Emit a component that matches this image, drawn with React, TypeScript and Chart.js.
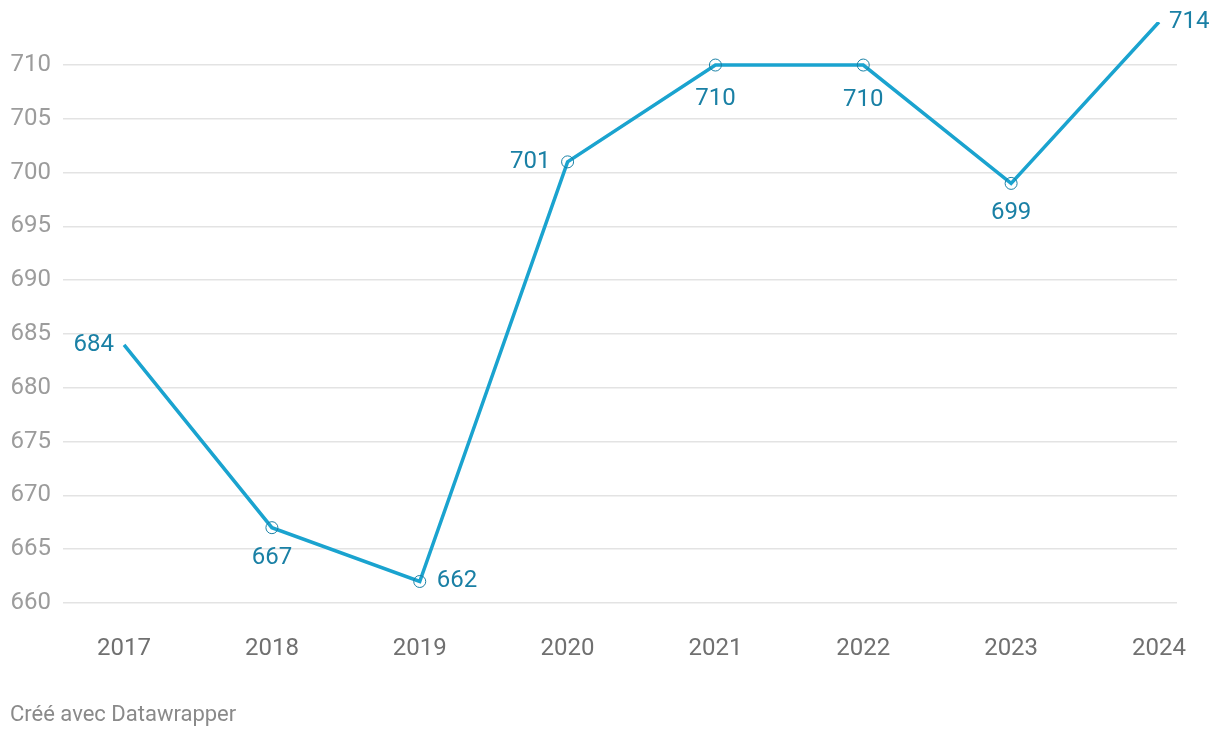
import React, { useEffect, useRef } from "react";
import { Chart, registerables } from "chart.js";

Chart.register(...registerables);

const years = [2017, 2018, 2019, 2020, 2021, 2022, 2023, 2024];
const values = [684, 667, 662, 701, 710, 710, 699, 714];
const yTicks = [660, 665, 670, 675, 680, 685, 690, 695, 700, 705, 710];
const labelPlacement = ["left", "below", "right", "left", "below", "below", "below", "right"];
const labelBelowGap = [0, 30, 0, 0, 34, 35, 30, 0];
const showMarker = [false, true, true, true, true, true, true, false];
const footerText = "Créé avec Datawrapper";

const FONT = "Roboto, 'Noto Sans', sans-serif";
const LINE = "#1aa3cf";
const LABEL = "#1a80a5";

export default function App() {
  const ref = useRef<HTMLCanvasElement | null>(null);

  useEffect(() => {
    document.body.style.margin = "0";
    const canvas = ref.current!;
    const labelsPlugin = {
      id: "dwLabels",
      afterDatasetsDraw(chart: any) {
        const ctx = chart.ctx;
        const meta = chart.getDatasetMeta(0);
        ctx.save();
        ctx.font = `24px ${FONT}`;
        ctx.fillStyle = LABEL;
        meta.data.forEach((pt: any, i: number) => {
          const t = String(values[i]);
          const p = labelPlacement[i];
          const gap = showMarker[i] ? 17 : 10;
          if (p === "left") {
            ctx.textAlign = "right";
            ctx.textBaseline = "middle";
            ctx.fillText(t, pt.x - gap, pt.y);
          } else if (p === "right") {
            ctx.textAlign = "left";
            ctx.textBaseline = "middle";
            ctx.fillText(t, pt.x + gap, pt.y);
          } else {
            ctx.textAlign = "center";
            ctx.textBaseline = "middle";
            ctx.fillText(t, pt.x, pt.y + labelBelowGap[i]);
          }
        });
        ctx.restore();
      },
      afterDraw(chart: any) {
        const ctx = chart.ctx;
        ctx.save();
        ctx.font = `22px ${FONT}`;
        ctx.fillStyle = "#8a8a8a";
        ctx.textAlign = "left";
        ctx.textBaseline = "middle";
        ctx.fillText(footerText, 10, 715);
        ctx.restore();
      },
    };

    const chart = new Chart(canvas, {
      type: "line",
      data: {
        datasets: [
          {
            data: years.map((y, i) => ({ x: y, y: values[i] })),
            borderColor: LINE,
            borderWidth: 3.5,
            tension: 0,
            pointRadius: showMarker.map((m) => (m ? 6 : 0)),
            pointBackgroundColor: "rgba(255,255,255,0)",
            pointBorderColor: LABEL,
            pointBorderWidth: 1,
            pointHoverRadius: 6,
          },
        ],
      },
      plugins: [labelsPlugin],
      options: {
        animation: false,
        responsive: false,
        layout: { padding: { top: 22, right: 43, left: 0, bottom: 0 } },
        plugins: { legend: { display: false }, tooltip: { enabled: false }, title: { display: false } },
        scales: {
          x: {
            type: "linear",
            min: 2016.587,
            max: 2024.122,
            afterBuildTicks: (s: any) => {
              s.ticks = years.map((v) => ({ value: v }));
            },
            afterFit: (s: any) => {
              s.height = 135;
              s.paddingLeft = 0;
              s.paddingRight = 0;
            },
            grid: { display: false, drawTicks: false },
            border: { display: false },
            ticks: {
              autoSkip: false,
              maxRotation: 0,
              padding: 32,
              color: "#707070",
              font: { family: FONT, size: 24 },
              callback: (v: any) => String(v),
            },
          },
          y: {
            min: 660,
            max: 714,
            afterBuildTicks: (s: any) => {
              s.ticks = yTicks.map((v) => ({ value: v }));
            },
            afterFit: (s: any) => {
              s.width = 63;
              s.paddingTop = 0;
              s.paddingBottom = 0;
            },
            grid: { color: "#e3e3e3", lineWidth: 1.5, drawTicks: false },
            border: { display: false },
            ticks: {
              padding: 12,
              color: "#9c9c9c",
              font: { family: FONT, size: 24 },
              callback: (v: any) => String(v),
            },
          },
        },
      },
    });
    return () => chart.destroy();
  }, []);

  return <canvas ref={ref} width={1220} height={738} style={{ display: "block" }} />;
}
